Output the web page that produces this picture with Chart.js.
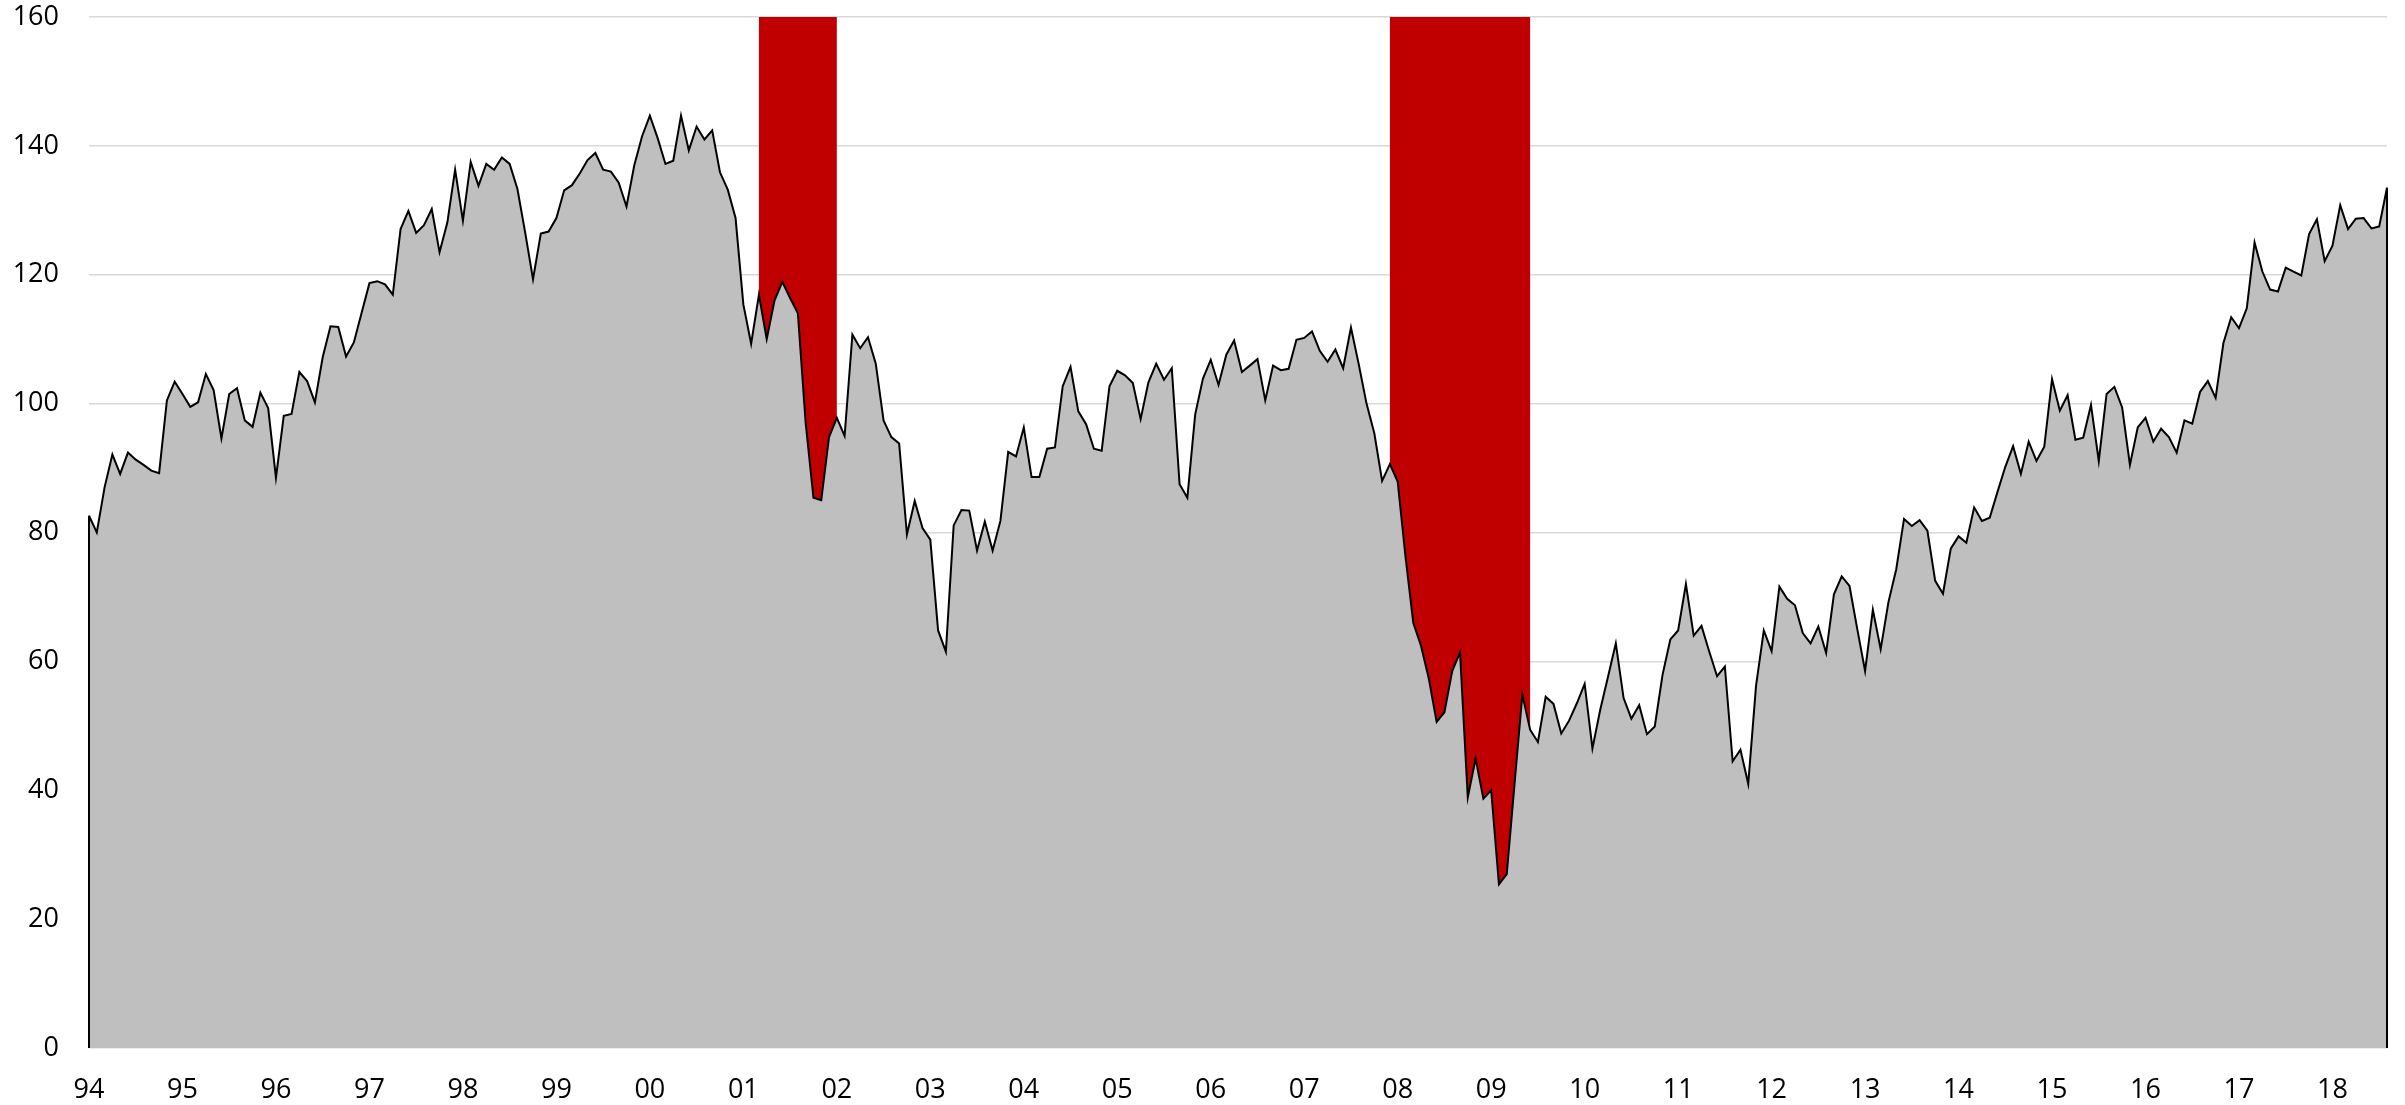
<!DOCTYPE html>
<html>
<head>
<meta charset="utf-8">
<script src="https://cdn.jsdelivr.net/npm/chart.js@4.4.1/dist/chart.umd.min.js"></script>
<style>
  body{margin:0;background:#fff;}
  #wrap{width:2405px;height:1105px;}
</style>
</head>
<body>
<div id="wrap"><canvas id="myChart" width="2405" height="1105"></canvas></div>
<script>
//---------- data (monthly, Jan 1994 - Aug 2018) ----------
const startYear = 1994;
const years = ['94','95','96','97','98','99','00','01','02','03','04','05','06','07','08','09','10','11','12','13','14','15','16','17','18'];

const values = [
  82.6, 80.0, 87.0, 92.1, 89.1, 92.4, 91.3, 90.5, 89.6, 89.2, 100.5, 103.4,       // 94
  101.5, 99.5, 100.2, 104.6, 102.1, 94.6, 101.5, 102.4, 97.4, 96.4, 101.7, 99.3,  // 95
  88.5, 98.1, 98.4, 104.9, 103.5, 100.2, 107.2, 112.0, 111.9, 107.3, 109.5, 114.1, // 96
  118.7, 119.0, 118.5, 116.9, 127.1, 129.9, 126.5, 127.7, 130.2, 123.5, 128.1, 136.3, // 97
  128.4, 137.5, 133.8, 137.2, 136.3, 138.2, 137.2, 133.3, 126.5, 119.3, 126.4, 126.7, // 98
  128.8, 133.1, 133.9, 135.7, 137.8, 138.9, 136.3, 136.0, 134.3, 130.6, 137.0, 141.5, // 99
  144.7, 141.2, 137.2, 137.7, 144.7, 139.3, 143.0, 141.0, 142.4, 135.9, 133.2, 128.8, // 00
  115.4, 109.3, 116.9, 110.0, 116.0, 118.9, 116.4, 114.0, 97.0, 85.4, 85.0, 94.8,    // 01
  97.8, 95.0, 110.7, 108.6, 110.3, 106.2, 97.4, 94.8, 93.8, 79.7, 84.9, 80.7,        // 02
  78.9, 64.8, 61.5, 81.1, 83.5, 83.4, 77.2, 81.7, 77.2, 81.8, 92.5, 91.8,            // 03
  96.3, 88.6, 88.6, 93.0, 93.2, 102.7, 105.7, 98.8, 96.8, 93.0, 92.7, 102.7,         // 04
  105.1, 104.4, 103.2, 97.6, 103.3, 106.2, 103.7, 105.5, 87.5, 85.4, 98.3, 103.9,    // 05
  106.8, 102.9, 107.6, 109.8, 104.9, 105.9, 106.9, 100.5, 105.9, 105.2, 105.4, 109.9, // 06
  110.2, 111.2, 108.2, 106.5, 108.4, 105.5, 111.8, 106.1, 100.0, 95.4, 88.0, 90.6,   // 07
  87.9, 76.3, 66.0, 62.4, 57.3, 50.6, 52.1, 58.5, 61.4, 38.9, 44.9, 38.7,            // 08
  40.0, 25.4, 27.0, 41.0, 54.8, 49.4, 47.5, 54.5, 53.4, 48.8, 50.8, 53.5,            // 09
  56.5, 46.5, 52.5, 57.6, 62.8, 54.3, 51.1, 53.2, 48.7, 49.9, 57.9, 63.4,            // 10
  64.8, 72.0, 64.0, 65.5, 61.5, 57.7, 59.2, 44.5, 46.3, 41.0, 56.2, 64.8,            // 11
  61.6, 71.6, 69.7, 68.7, 64.4, 62.8, 65.4, 61.3, 70.4, 73.2, 71.7, 65.0,            // 12
  58.5, 68.0, 61.9, 69.2, 74.3, 82.1, 81.0, 81.9, 80.3, 72.5, 70.5, 77.5,            // 13
  79.4, 78.4, 83.9, 81.8, 82.3, 86.3, 90.2, 93.4, 89.1, 94.1, 91.1, 93.3,            // 14
  103.8, 98.9, 101.3, 94.4, 94.7, 99.8, 91.1, 101.5, 102.6, 99.4, 90.5, 96.3,        // 15
  97.8, 94.1, 96.1, 94.8, 92.4, 97.4, 96.9, 101.8, 103.5, 100.9, 109.4, 113.4,       // 16
  111.7, 114.8, 125.0, 120.5, 117.7, 117.4, 121.1, 120.5, 119.9, 126.3, 128.6, 122.1, // 17
  124.5, 130.8, 127.1, 128.7, 128.8, 127.2, 127.5, 133.5                              // 18
];

// recession shading: from start month up to (not incl.) end month
const recessionStart = ['2001-03', '2007-12'];
const recessionEnd   = ['2002-01', '2009-06'];

const yMax = 160;

//---------- build categories & shading series ----------
const months = values.map((v, i) => {
  const y = startYear + Math.floor(i / 12);
  const m = (i % 12) + 1;
  return y + '-' + (m < 10 ? '0' + m : m);
});

const recession = months.map(m => {
  for (let k = 0; k < recessionStart.length; k++) {
    if (m >= recessionStart[k] && m < recessionEnd[k]) return yMax;
  }
  return 0;
});

// black edges down to the axis at both ends of the area (like Excel's outline)
const areaEdges = {
  id: 'areaEdges',
  afterDatasetsDraw(chart) {
    const pts = chart.getDatasetMeta(0).data;
    const base = chart.scales.y.getPixelForValue(0);
    const ctx = chart.ctx;
    ctx.save();
    ctx.strokeStyle = '#000';
    ctx.lineWidth = 2;
    ctx.beginPath();
    ctx.moveTo(pts[0].x, pts[0].y);
    ctx.lineTo(pts[0].x, base);
    ctx.moveTo(pts[pts.length - 1].x, pts[pts.length - 1].y);
    ctx.lineTo(pts[pts.length - 1].x, base);
    ctx.stroke();
    ctx.restore();
  }
};

const tickFont = {family: "'Open Sans', sans-serif", size: 27};

const ctx = document.getElementById('myChart');
const chart = new Chart(ctx, {
  type: 'line',
  data: {
    labels: months,
    datasets: [
      {
        data: values,
        borderColor: '#000',
        borderWidth: 2,
        backgroundColor: '#bfbfbf',
        fill: 'origin',
        pointRadius: 0,
        tension: 0,
        order: 0
      },
      {
        data: recession,
        borderWidth: 0,
        borderColor: 'rgba(0,0,0,0)',
        backgroundColor: '#c00000',
        fill: 'origin',
        stepped: 'before',
        pointRadius: 0,
        order: 1
      }
    ]
  },
  options: {
    responsive: false,
    animation: false,
    devicePixelRatio: 1,
    layout: {padding: {top: 17, right: 18, left: 0, bottom: 0}},
    plugins: {
      legend: {display: false},
      tooltip: {enabled: false}
    },
    scales: {
      x: {
        offset: false,
        grid: {display: false},
        border: {display: false},
        ticks: {
          autoSkip: false,
          maxRotation: 0,
          padding: 18,
          color: '#000',
          font: tickFont,
          callback: function(value, index) {
            return index % 12 === 0 ? years[index / 12] : '';
          }
        },
        afterFit(scale) { scale.height = 57; }
      },
      y: {
        min: 0,
        max: yMax,
        // invisible tick marks push the labels away from the plot
        grid: {color: '#d9d9d9', lineWidth: 1.5, drawTicks: true, tickLength: 30, tickColor: 'rgba(0,0,0,0)'},
        border: {display: false},
        ticks: {
          stepSize: 20,
          padding: 0,
          color: '#000',
          font: tickFont
        },
        afterFit(scale) { scale.width = 89; }
      }
    }
  },
  plugins: [areaEdges]
});
</script>
</body>
</html>
